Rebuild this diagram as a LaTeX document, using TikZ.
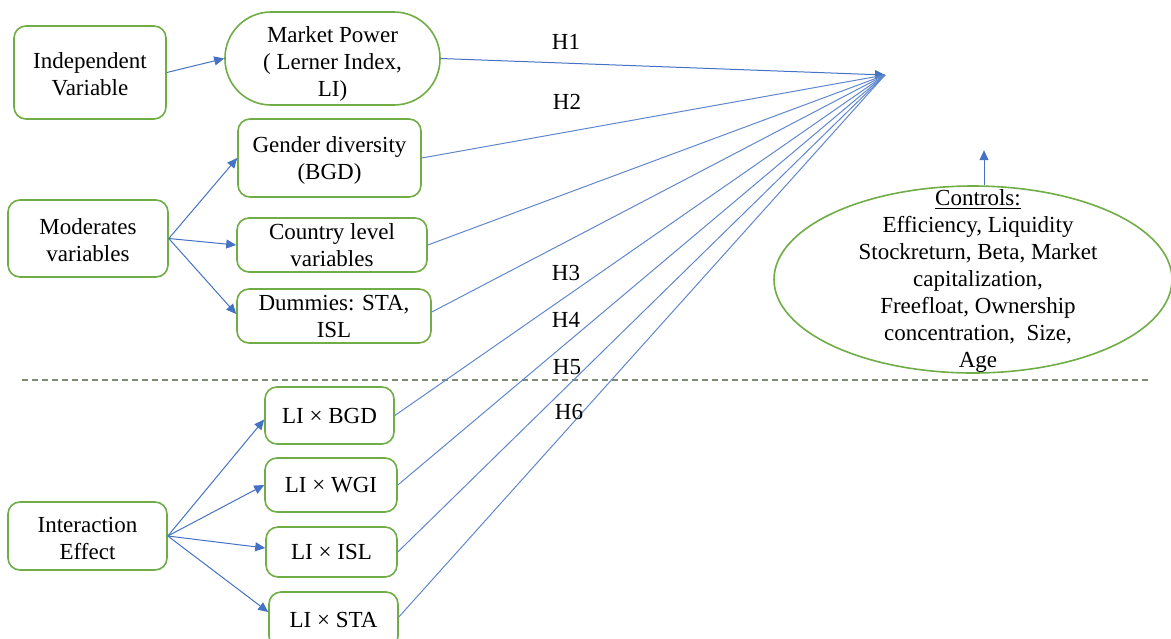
\documentclass[tikz,border=0pt]{standalone}
\usepackage{fontspec}
\setmainfont{Liberation Serif}
\usetikzlibrary{arrows.meta,shapes.geometric}
\definecolor{gr}{HTML}{70AD47}
\definecolor{bl}{HTML}{4472C4}
\begin{document}
\begin{tikzpicture}[x=0.5pt,y=-0.5pt,
  box/.style={draw=gr, line width=0.8pt, rounded corners=6pt, align=center, inner sep=0pt, font=\fontsize{11.5}{13.5}\selectfont},
  conn/.style={draw=bl, line width=0.5pt, -{Triangle[length=5pt,width=4.5pt]}},
  plain/.style={draw=bl!85, line width=0.5pt},
  lab/.style={font=\fontsize{11.5}{13.5}\selectfont, inner sep=0pt}]
\useasboundingbox (0,0) rectangle (1171,638);
\clip (0,0) rectangle (1171,638);
% nodes
\node[box, minimum width=76pt, minimum height=46.5pt] (iv) at (90,72.5) {\rule{0pt}{10pt}Independent\\Variable};
\node[box, rounded corners=23pt, minimum width=107.5pt, minimum height=46.5pt] (mp) at (332.5,58.5) {\rule{0pt}{13pt}Market Power\\( Lerner Index,\\LI)};
\node[box, minimum width=91.5pt, minimum height=39pt] (gd) at (329.5,158) {\rule{0pt}{10pt}Gender diversity\\(BGD)};
\node[box, minimum width=80pt, minimum height=38.5pt] (mv) at (88,238.5) {\rule{0pt}{10pt}Moderates\\variables};
\node[box, minimum width=95pt, minimum height=27pt] (cl) at (332,245) {Country level\\variables};
\node[box, minimum width=97pt, minimum height=27pt] (du) at (334,316) {Dummies: STA,\\ISL};
\node[box, minimum width=64.5pt, minimum height=28.5pt] (b1) at (329.5,415.5) {LI × BGD};
\node[box, minimum width=66pt, minimum height=27pt] (b2) at (331,485) {LI × WGI};
\node[box, minimum width=65.5pt, minimum height=25pt] (b3) at (331.5,552) {LI × ISL};
\node[box, minimum width=64.5pt, minimum height=28pt] (b4) at (333.5,620) {LI × STA};
\node[box, minimum width=79.5pt, minimum height=34pt] (ie) at (87.5,536) {\rule{0pt}{10pt}Interaction\\Effect};
\node[draw=gr, line width=0.8pt, ellipse, inner sep=0pt, minimum width=199pt, minimum height=93.5pt] (ct) at (973,279.5) {};
\node[lab, align=center] (ctt) at (978,281) {\underline{Controls:}\\Efficiency, Liquidity\\Stockreturn, Beta, Market\\capitalization,\\Freefloat, Ownership\\concentration,\ \ Size,\\Age};
% dashed separator
\coordinate (dl) at (22,380);
\coordinate (dr) at (1150,380);
\draw[draw=gray!75!gr, line width=0.6pt, dash pattern=on 3pt off 2pt] (dl) -- (dr);
% convergence point
\coordinate (dv) at (885,75);
% connectors
\draw[conn] (iv.east) -- (mp.west);
\draw[conn] (mp.east) -- (dv);
\draw[plain] (gd.east) -- (dv);
\draw[plain] (cl.east) -- (dv);
\draw[plain] ([yshift=2pt]du.east) -- (dv);
\draw[plain] (b1.east) -- (dv);
\draw[plain] (b2.east) -- (dv);
\draw[plain] (b3.east) -- (dv);
\draw[plain] ([yshift=1.5pt]b4.east) -- (dv);
\draw[conn] (mv.east) -- (gd.west);
\draw[conn] (mv.east) -- (cl.west);
\draw[conn] (mv.east) -- ([yshift=1pt]du.west);
\draw[conn] (ie.east) -- ([yshift=-2pt]b1.west);
\draw[conn] (ie.east) -- (b2.west);
\draw[conn] (ie.east) -- ([yshift=2pt]b3.west);
\draw[conn] (ie.east) -- ([yshift=4pt]b4.west);
\draw[conn] ([xshift=5.5pt]ct.north) -- ++(0,-35);
% labels
\node[lab] (h1) at (566,42) {H1};
\node[lab] (h2) at (567,102) {H2};
\node[lab] (h3) at (566,273) {H3};
\node[lab] (h4) at (566,320) {H4};
\node[lab] (h5) at (567,367) {H5};
\node[lab] (h6) at (569,412) {H6};
\end{tikzpicture}
\end{document}
